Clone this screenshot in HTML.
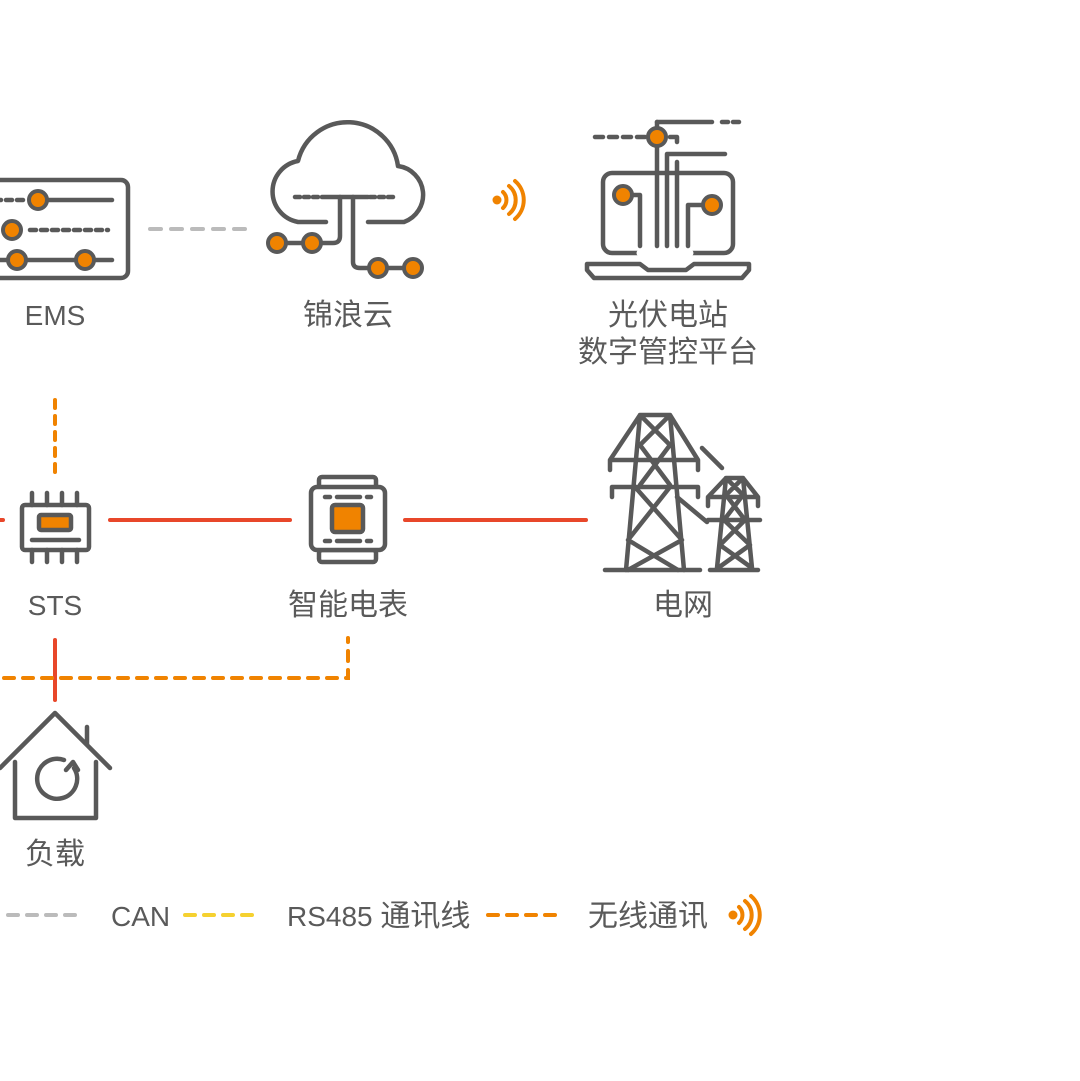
<!DOCTYPE html>
<html><head><meta charset="utf-8"><style>
html,body{margin:0;padding:0;background:#fff;}
svg{display:block}
text{font-family:"Liberation Sans","Noto Sans CJK SC",sans-serif;fill:#5a5a5a;font-size:28px;}
.c{font-size:30px;}
</style></head><body>
<svg width="1080" height="1081" viewBox="0 0 1080 1081" xmlns="http://www.w3.org/2000/svg">
<g fill="none" stroke="#595959" stroke-width="4.5" stroke-linecap="round" stroke-linejoin="round">
<!-- EMS -->
<rect x="-12" y="180" width="140" height="98" rx="7"/>
<path d="M-5 200H25" stroke-dasharray="6 5"/><path d="M48 200H112"/>
<path d="M30 230H108" stroke-dasharray="6 5"/>
<path d="M-5 260H112"/>
<!-- cloud -->
<path d="M326 222H298A31 31 0 0 1 298 161A51 51 0 0 1 398 166A29 29 0 0 1 404 222H368"/>
<path d="M295 197H320M370 197H393" stroke-dasharray="5 4"/>
<path d="M322 197H368"/>
<path d="M340 197V236Q340 243 333 243H285"/>
<path d="M353 197V262Q353 268 360 268H413"/>
<!-- platform -->
<rect x="603" y="173" width="130" height="80" rx="9"/>
<path d="M587 264H640L648 270H686L694 264H749V270L742 278H594L587 270Z" fill="#fff"/>
<path d="M595 137H645" stroke-dasharray="8 6"/>
<path d="M657 137V246M657 122H712"/>
<path d="M722 122H740" stroke-dasharray="6 5"/>
<path d="M657 122V128"/>
<path d="M670 137H677V142"/>
<path d="M667 154H725M667 154V246M677 162V246"/>
<path d="M623 195H640V246M712 205H688V246"/>
<path d="M640 253H690" stroke-dasharray="6 5" stroke="#fff" stroke-width="7"/>
<!-- towers -->
<path d="M626 570L640 415H670L684 570M640 415L670 445M670 415L640 445M640 445L670 485M670 445L640 485M610 460L640 415M610 460V470M610 460H698M698 460V470M698 460L670 415M612 487H698M612 487V497M698 487V497M635 487L682 540M670 487L628 540M628 540L678 570M682 540L628 570"/>
<path d="M605 570H700"/>
<path d="M702 448L722 468M677 497L707 522"/>
<path d="M717 568L726 478H743L752 568M726 478L743 495M743 478L726 495M708 497H758M708 497V506M758 497V506M708 497L726 478M758 497L743 478M726 495L745 520M743 495L724 520M724 520L750 545M745 520L720 545M720 545L752 568M750 545L718 568M708 520H760M710 570H758"/>
<!-- STS -->
<rect x="22" y="505" width="67" height="45" rx="3"/>
<path d="M32 493V505M47 493V505M62 493V505M77 493V505M32 550V562M47 550V562M62 550V562M77 550V562M32 540H79"/>
<rect x="39" y="515" width="32" height="15" rx="2" fill="#f08300"/>
<!-- meter -->
<rect x="319" y="477" width="57" height="12" rx="3"/>
<rect x="319" y="550" width="57" height="12" rx="3"/>
<rect x="311" y="487" width="74" height="63" rx="6" fill="#fff"/>
<path d="M325 497H330M337 497H360M367 497H371M325 541H330M337 541H360M367 541H371"/>
<rect x="332" y="505" width="31" height="27" rx="3" fill="#f08300"/>
<!-- house -->
<path d="M0 768L55 713L110 768M87 727V745M15 762V818H96V762"/>
<path d="M74 768A20 20 0 1 1 64 760"/>
<path d="M66 770L73 762L78 770"/>
</g>
<!-- orange knobs -->
<g fill="#f08300" stroke="#595959" stroke-width="4">
<circle cx="38" cy="200" r="9"/><circle cx="12" cy="230" r="9"/><circle cx="17" cy="260" r="9"/><circle cx="85" cy="260" r="9"/>
<circle cx="277" cy="243" r="9"/><circle cx="312" cy="243" r="9"/><circle cx="378" cy="268" r="9"/><circle cx="413" cy="268" r="9"/>
<circle cx="657" cy="137" r="9"/><circle cx="623" cy="195" r="9"/><circle cx="712" cy="205" r="9"/>
</g>
<!-- connectors -->
<g fill="none" stroke-width="4" stroke-linecap="round">
<path d="M150 229H246" stroke="#bbb" stroke-dasharray="11 10"/>
<path d="M0 520H3M110 520H290M405 520H586" stroke="#e8472a"/>
<path d="M55 400V475" stroke="#f08300" stroke-dasharray="8 8"/>
<path d="M55 640V700" stroke="#e8472a"/>
<path d="M4 678H348V638" stroke="#f08300" stroke-dasharray="10 9"/>
<path d="M8 915H82" stroke="#bbb" stroke-dasharray="10 9"/>
<path d="M185 915H258" stroke="#f5d130" stroke-dasharray="10 9"/>
<path d="M488 915H560" stroke="#f08300" stroke-dasharray="10 9"/>
<g stroke="#f08300">
<path d="M503 192A11 11 0 0 1 503 208M509 186A18 18 0 0 1 509 214M515 181A25 25 0 0 1 515 219"/>
<path d="M739 907A11 11 0 0 1 739 923M745 901A18 18 0 0 1 745 929M751 896A25 25 0 0 1 751 934"/>
</g>
</g>
<circle cx="497" cy="200" r="4.5" fill="#f08300"/>
<circle cx="733" cy="915" r="4.5" fill="#f08300"/>
<!-- labels -->
<text x="55" y="325" text-anchor="middle">EMS</text>
<text class="c" x="348" y="325" text-anchor="middle">锦浪云</text>
<text class="c" x="668" y="325" text-anchor="middle">光伏电站</text>
<text class="c" x="668" y="362" text-anchor="middle">数字管控平台</text>
<text x="55" y="615" text-anchor="middle">STS</text>
<text class="c" x="348" y="615" text-anchor="middle">智能电表</text>
<text class="c" x="683" y="615" text-anchor="middle">电网</text>
<text class="c" x="55" y="864" text-anchor="middle">负载</text>
<text x="111" y="926">CAN</text>
<text x="287" y="926">RS485 <tspan class="c">通讯线</tspan></text>
<text class="c" x="588" y="926">无线通讯</text>
</svg>
</body></html>
